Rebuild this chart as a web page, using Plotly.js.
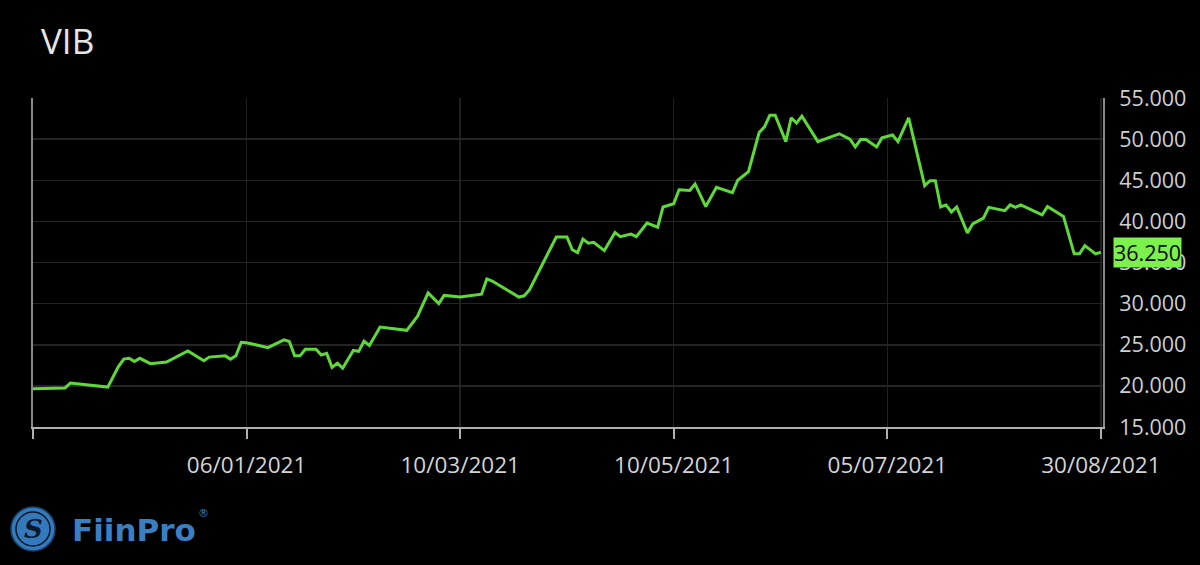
<!DOCTYPE html>
<html>
<head>
<meta charset="utf-8">
<script src="https://cdn.plot.ly/plotly-3.0.1.min.js"></script>
<style>
  html, body { margin: 0; padding: 0; background: #000; }
  #chart { width: 1200px; height: 565px; }
</style>
</head>
<body>
<div id="chart"></div>
<script>
// Trading-day index (0 = first session shown) and closing price (VND)
const tradingDayIndex = [0,2,6,7,14,16,17,18,19,20,22,25,29,32,33,36,37,38,39,40,44,47,48,49,50,51,53,54,55,56,57,58,60,61,62,63,65,70,72,74,76,77,80,84,85,86,91,92,93,98,100,101,102,103,104,105,107,109,110,112,113,115,117,118,120,121,123,124,126,128,131,132,134,136,137,138,139,141,142,143,144,147,151,153,154,155,156,158,159,161,162,164,167,168,169,170,171,172,173,175,176,178,179,182,183,184,185,189,190,193,195,196,197,199,200];
const closePrice = [19650,19700,19750,20350,19850,22350,23250,23350,22950,23350,22700,22900,24250,23050,23500,23650,23250,23650,25300,25250,24650,25600,25400,23650,23650,24450,24450,23750,23950,22250,22750,22150,24300,24200,25450,24900,27150,26750,28450,31300,30000,31000,30800,31150,33000,32750,30800,30950,31700,38100,38100,36550,36200,37850,37350,37450,36450,38650,38150,38450,38150,39800,39300,41750,42150,43850,43750,44550,41800,44150,43500,45000,46050,50800,51500,52900,52900,49700,52600,51950,52800,49700,50650,50000,49050,49950,49950,49050,50150,50500,49700,52600,44350,44950,44950,41750,42000,41150,41750,38600,39700,40400,41700,41300,42000,41700,42000,40800,41800,40600,36050,36050,37050,36050,36250];

// X tick positions (trading-day index) and their labels
const xTickIndex = [0, 40, 80, 120, 160, 200];
const xTickLabels = ['', '06/01/2021', '10/03/2021', '10/05/2021', '05/07/2021', '30/08/2021'];
// Y ticks
const yTickValues = [15000, 20000, 25000, 30000, 35000, 40000, 45000, 50000, 55000];

const tickerName = 'VIB';
const lastPrice = closePrice[closePrice.length - 1];

const FONT = 'Open Sans, Noto Sans, sans-serif';

const trace = {
  x: tradingDayIndex,
  y: closePrice,
  type: 'scatter',
  mode: 'lines',
  line: { color: '#5fd93a', width: 3 },
  hoverinfo: 'skip'
};

const layout = {
  width: 1200,
  height: 565,
  paper_bgcolor: '#000000',
  plot_bgcolor: '#000000',
  separators: ',.',
  showlegend: false,
  margin: { l: 33, r: 97, t: 98, b: 138 },
  font: { family: FONT, color: '#cfcfcf', size: 20 },
  title: {
    text: tickerName,
    x: 41 / 1200, xref: 'container', xanchor: 'left',
    y: 1 - 42 / 565, yref: 'container', yanchor: 'middle',
    font: { family: FONT, size: 35, color: '#e6e6e6' }
  },
  xaxis: {
    range: [0, 200.4],
    tickmode: 'array',
    tickvals: xTickIndex,
    ticktext: xTickLabels,
    showgrid: true,
    gridcolor: '#202020',
    gridwidth: 1.5,
    zeroline: false,
    showline: true,
    linecolor: '#b0b0b0',
    linewidth: 2,
    ticks: 'outside',
    ticklen: 10,
    tickwidth: 2,
    tickcolor: '#b0b0b0',
    ticklabelstandoff: 7,
    tickfont: { family: FONT, size: 22.5, color: '#d4d4d4' },
    fixedrange: true
  },
  yaxis: {
    side: 'right',
    range: [15000, 55000],
    tickmode: 'array',
    tickvals: yTickValues,
    tickformat: ',d',
    showgrid: true,
    gridcolor: '#242424',
    gridwidth: 1.5,
    zeroline: false,
    showline: true,
    mirror: true,
    linecolor: '#8a8a8a',
    linewidth: 2,
    ticks: '',
    ticklabelstandoff: 10,
    tickfont: { family: FONT, size: 21.5, color: '#cfcfcf' },
    fixedrange: true
  },
  annotations: [
    {
      xref: 'paper', yref: 'y', x: 1, y: lastPrice,
      xanchor: 'left', yanchor: 'middle', xshift: 10,
      text: lastPrice.toLocaleString('de-DE'),
      showarrow: false,
      bgcolor: '#7cf04c',
      borderpad: 0,
      font: { family: FONT, size: 21.5, color: '#0a0a0a' }
    },
    {
      xref: 'paper', yref: 'paper',
      x: 0, y: (427 - 529) / 329,
      xanchor: 'center', yanchor: 'middle',
      text: '<b><i>S</i></b>',
      showarrow: false,
      font: { family: 'DejaVu Serif, serif', size: 26, color: '#0b1a2a' }
    },
    {
      xref: 'paper', yref: 'paper',
      x: (70 - 33) / 1070, y: (427 - 530) / 329,
      xanchor: 'left', yanchor: 'middle',
      text: '<b>FiinPro</b>',
      showarrow: false,
      font: { family: 'DejaVu Sans, sans-serif', size: 31, color: '#3a7fc2' }
    },
    {
      xref: 'paper', yref: 'paper',
      x: (196 - 33) / 1070, y: (427 - 513) / 329,
      xanchor: 'left', yanchor: 'middle',
      text: '®',
      showarrow: false,
      font: { family: 'DejaVu Sans, sans-serif', size: 11, color: '#3a7fc2' }
    }
  ],
  shapes: [
    {
      type: 'circle', xref: 'paper', yref: 'paper',
      xsizemode: 'pixel', ysizemode: 'pixel',
      xanchor: 0, yanchor: (427 - 529) / 329,
      x0: -22, x1: 22, y0: -22, y1: 22,
      fillcolor: '#3579bd', line: { color: '#1b3f66', width: 1.5 }
    },
    {
      type: 'circle', xref: 'paper', yref: 'paper',
      xsizemode: 'pixel', ysizemode: 'pixel',
      xanchor: 0, yanchor: (427 - 529) / 329,
      x0: -17, x1: 17, y0: -17, y1: 17,
      fillcolor: 'rgba(0,0,0,0)', line: { color: '#0b1a2a', width: 1.5 }
    }
  ]
};

Plotly.newPlot('chart', [trace], layout, { displayModeBar: false, staticPlot: true });
</script>
</body>
</html>
